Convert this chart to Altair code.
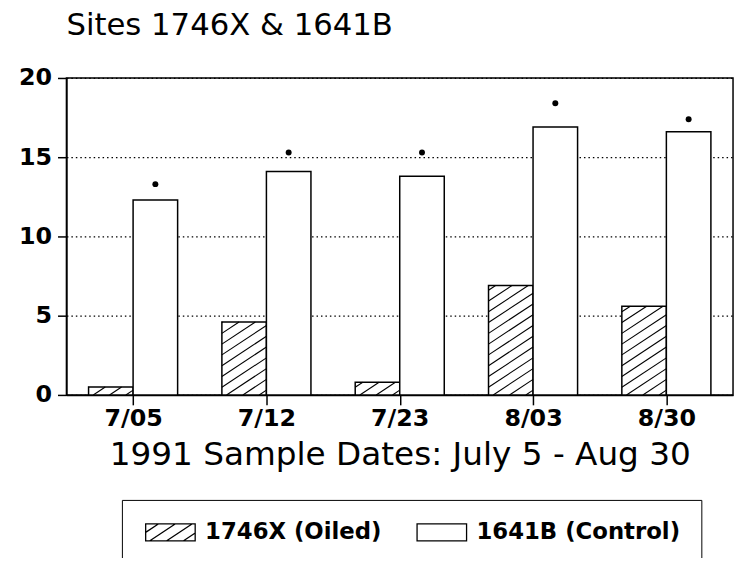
import json
import altair as alt
import pandas as pd

# ---- data ----
dates = ["7/05", "7/12", "7/23", "8/03", "8/30"]
oiled = [0.5, 4.6, 0.8, 6.9, 5.6]          # 1746X (hatched)
control = [12.3, 14.1, 13.8, 16.9, 16.6]   # 1641B (open)
star_y = [13.3, 15.3, 15.3, 18.4, 17.4]    # asterisks above control bars
series = ["1746X (Oiled)", "1641B (Control)"]
y_ticks = [0, 5, 10, 15, 20]

FONT = "DejaVu Sans"
W, H = 673, 320
BAR_W = 0.334                       # bar width in band units
K = 0.66 * (W / 5) / (H / 20)       # hatch slope in data units
GAP = 0.68                          # hatch spacing (y units)
KW = K * BAR_W

rows = []
for i, d in enumerate(dates):
    rows.append({"date": d, "i": i, "series": series[0], "value": oiled[i], "star": None})
    rows.append({"date": d, "i": i, "series": series[1], "value": control[i], "star": star_y[i]})
df = pd.DataFrame(rows)

base = alt.Chart(df).transform_calculate(
    center="datum.i + 0.5"
).transform_calculate(
    x0=f"datum.series == {json.dumps(series[0])} ? datum.center - {BAR_W} : datum.center"
).transform_calculate(
    x1=f"datum.x0 + {BAR_W}", xm=f"datum.x0 + {BAR_W / 2}"
)

xs = alt.Scale(domain=[0, 5], nice=False, zero=False)
ys = alt.Scale(domain=[0, 20], nice=False)
label_expr = f"{json.dumps(dates)}[floor(datum.value)]"
xaxis = alt.Axis(
    values=[i + 0.5 for i in range(len(dates))], labelExpr=label_expr, grid=False,
    tickSize=10, tickColor="black", tickWidth=1.5, domainColor="black", domainWidth=1.5,
    labelFont=FONT, labelFontSize=24, labelFontWeight="bold", labelColor="black", labelPadding=2,
    title="1991 Sample Dates: July 5 - Aug 30", titleFont=FONT, titleFontSize=33,
    titleFontWeight="normal", titleColor="black", titlePadding=8,
)
yaxis = alt.Axis(
    values=y_ticks, grid=True, gridDash=[1.5, 3], gridColor="black", gridWidth=1.2,
    tickSize=9, tickColor="black", tickWidth=1.5, domainColor="black", domainWidth=1.5,
    labelFont=FONT, labelFontSize=24, labelFontWeight="bold", labelColor="black",
    labelPadding=6, title=None,
)

bars = base.mark_rect(fill="white", stroke="black", strokeWidth=1.5).encode(
    x=alt.X("x0:Q", scale=xs, axis=xaxis),
    x2="x1:Q",
    y=alt.Y("value:Q", scale=ys, axis=yaxis),
    y2=alt.datum(0),
)

hatch = base.transform_filter(
    alt.datum.series == series[0]
).transform_calculate(
    cs=f"sequence({-KW + 0.3}, datum.value, {GAP})"
).transform_flatten(["cs"]).transform_calculate(
    xa=f"datum.cs >= 0 ? datum.x0 : datum.x0 - datum.cs / {K}",
    ya="max(datum.cs, 0)",
    xb=f"datum.cs + {KW} <= datum.value ? datum.x1 : datum.x0 + (datum.value - datum.cs) / {K}",
    yb=f"min(datum.cs + {KW}, datum.value)",
).transform_filter("datum.xb > datum.xa").mark_rule(color="black", strokeWidth=1.1).encode(
    x=alt.X("xa:Q", scale=xs, axis=xaxis),
    x2="xb:Q",
    y=alt.Y("ya:Q", scale=ys, axis=yaxis),
    y2="yb:Q",
)

stars = base.transform_filter(alt.datum.series == series[1]).mark_point(
    shape="circle", filled=True, size=36, color="black", opacity=1
).encode(
    x=alt.X("xm:Q", scale=xs, axis=xaxis),
    y=alt.Y("star:Q", scale=ys, axis=yaxis),
)

hatch_path = ("M-1,-1L4.88,-1L4.88,1L-1,1Z"
              "M-1,0L0.5,-1M-0.5,1L2.5,-1M1.5,1L4.5,-1M3.5,1L4.88,0.08")
plain_path = "M-1,-1L4.88,-1L4.88,1L-1,1Z"

legend_layer = base.mark_point(color="black", filled=False, opacity=0).encode(
    x=alt.X("xm:Q", scale=xs, axis=xaxis),
    y=alt.Y("value:Q", scale=ys, axis=yaxis),
    shape=alt.Shape(
        "series:N",
        scale=alt.Scale(domain=series, range=[hatch_path, plain_path]),
        legend=alt.Legend(
            orient="none", legendX=56, legendY=426, direction="horizontal", title=None,
            strokeColor="black", padding=21, symbolSize=289, symbolStrokeColor="black",
            symbolStrokeWidth=1.3, symbolFillColor="white", symbolOpacity=1,
            labelFont=FONT, labelFontSize=23, labelFontWeight="bold", labelColor="black",
            labelOffset=40, columnPadding=32, labelLimit=400,
        ),
    ),
)

chart = alt.layer(bars, hatch, stars, legend_layer).properties(
    width=W, height=H,
    title=alt.TitleParams(
        "Sites 1746X & 1641B", anchor="start", frame="group", font=FONT, fontSize=31,
        fontWeight="normal", color="black", offset=24,
    ),
    padding={"left": 59, "top": 68, "right": 3, "bottom": 162},
    autosize="none",
    background="white",
).configure_view(stroke="black", strokeWidth=1.5)

chart.save("out.html", embed_options={"renderer": "svg", "actions": False})
